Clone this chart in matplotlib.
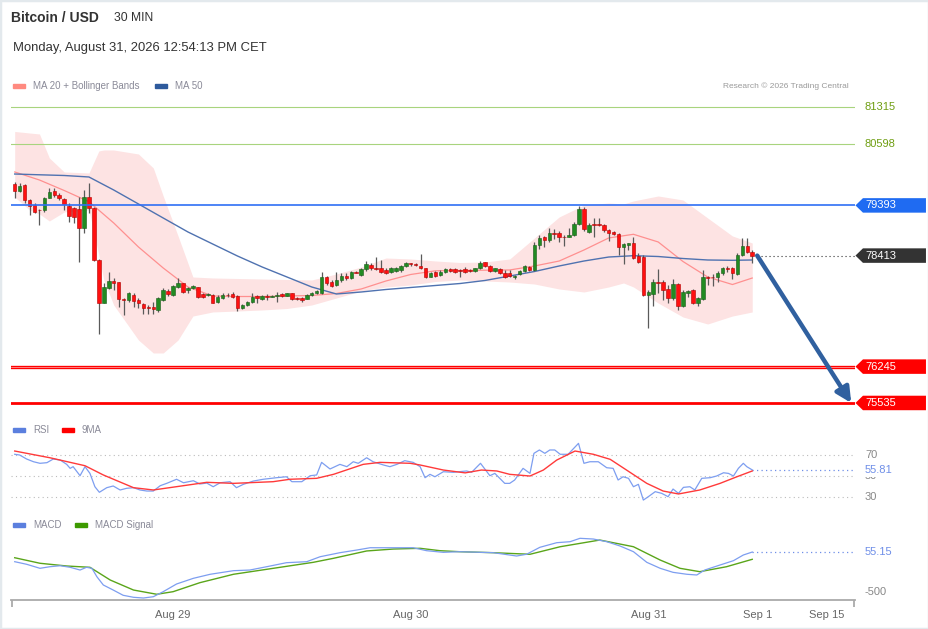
import numpy as np
import matplotlib
matplotlib.use('Agg')
import matplotlib.pyplot as plt
from matplotlib.path import Path
from matplotlib.patches import Rectangle
import matplotlib.transforms as mtrans

plt.rcParams['font.family'] = ['Liberation Sans', 'DejaVu Sans']

# ---------------- data ----------------
opens = [79812,79681,79792,79499,79401,79304,79304,79545,79681,79597,
         79512,79382,79349,79317,78946,79564,79336,78327,77494,77774,
         77917,77891,77559,77546,77644,77546,77462,77403,77403,77351,
         77546,77728,77644,77794,77872,77741,77774,77794,77663,77644,
         77644,77514,77579,77650,77663,77624,77383,77448,77514,77624,
         77566,77631,77611,77624,77657,77631,77676,77592,77579,77566,
         77644,77676,77676,78002,77904,77839,77937,78015,77982,78099,
         78034,78145,78230,78178,78164,78132,78086,78119,78132,78210,
         78262,78249,78210,78164,78002,78099,78034,78099,78151,78145,
         78125,78151,78132,78112,78164,78282,78210,78112,78145,78067,
         78067,78002,78054,78119,78197,78132,78620,78770,78718,78848,
         78848,78783,78783,78815,79024,79317,78881,79024,79024,79011,
         78913,78868,78829,78588,78620,78653,78405,78392,77644,77657,
         77904,77904,77754,77579,77852,77429,77676,77741,77494,77566,
         77989,78002,78002,78067,78178,78164,78054,78425,78601,78477]
highs = [79857,79825,79812,79512,79434,79317,79564,79727,79727,79629,
         79532,79434,79369,79564,79694,79838,79356,78340,77872,78099,
         77969,77904,77579,77709,77676,77579,77481,77448,77514,77611,
         77774,77754,77839,77969,77885,77807,77839,77807,77689,77676,
         77663,77644,77676,77689,77709,77644,77468,77533,77676,77644,
         77644,77657,77644,77709,77689,77689,77689,77611,77611,77663,
         77709,77741,78099,78015,77937,78099,78067,78080,78119,78119,
         78164,78314,78262,78392,78327,78164,78184,78197,78230,78295,
         78275,78275,78444,78178,78099,78119,78132,78164,78171,78164,
         78145,78197,78151,78178,78308,78295,78230,78178,78164,78132,
         78132,78034,78132,78230,78210,78685,78815,78796,78946,78926,
         78900,78815,78946,79076,79382,79369,79043,79141,79141,79030,
         78926,78894,78861,78653,78666,78770,78457,78425,77741,77950,
         78145,77937,77839,77956,77872,77741,77741,77754,77611,78132,
         78015,78054,78119,78197,78210,78197,78457,78750,78750,78523]
lows = [79532,79662,79434,79206,79252,79011,79271,79532,79564,79499,
        79304,79076,79043,78295,78848,79239,78314,76876,77481,77761,
        77741,77416,77253,77514,77416,77383,77273,77273,77273,77318,
        77533,77624,77624,77774,77689,77689,77754,77579,77579,77624,
        77481,77494,77559,77611,77592,77338,77370,77429,77494,77481,
        77546,77546,77598,77513,77611,77618,77546,77546,77513,77559,
        77624,77657,77663,77839,77793,77819,77904,77937,77956,78067,
        78015,78119,78132,78132,78080,78054,78067,78099,78099,78197,
        78210,78216,78145,77969,77989,78002,78015,78080,78099,78080,
        77989,78080,78093,78093,78151,78197,78099,78093,78054,77982,
        77989,77956,78034,78099,78119,78119,78536,78588,78685,78731,
        78685,78601,78770,78796,79011,78900,78861,78770,78991,78881,
        78705,78809,78425,78249,78523,78340,78275,77631,76993,77429,
        77689,77546,77481,77546,77351,77403,77611,77461,77429,77546,
        77839,77819,77904,78034,78099,77950,78034,78405,78457,78262]
closes = [79681,79779,79499,79388,79271,79297,79532,79662,79597,79532,
          79414,79193,79174,78946,79564,79336,78327,77494,77794,77917,
          77872,77559,77546,77676,77527,77481,77383,77383,77364,77579,
          77741,77663,77820,77872,77709,77774,77820,77598,77611,77657,
          77494,77611,77644,77637,77611,77383,77448,77514,77611,77579,
          77631,77611,77631,77644,77631,77676,77559,77559,77546,77644,
          77689,77722,77989,77872,77819,77937,78015,77969,78099,78080,
          78145,78243,78164,78151,78099,78080,78164,78164,78210,78262,
          78243,78230,78164,77989,78080,78015,78099,78145,78119,78099,
          78112,78099,78112,78164,78275,78216,78112,78164,78067,78002,
          78015,78021,78119,78210,78132,78620,78750,78718,78848,78835,
          78770,78770,78822,79030,79317,78926,79011,79011,79011,78913,
          78848,78829,78588,78633,78653,78360,78295,77644,77709,77904,
          77885,77741,77579,77852,77429,77709,77728,77494,77592,77989,
          77969,77989,78080,78178,78145,78067,78425,78601,78490,78413]

ma_idx = [0,5,10,15,20,25,30,35,40,45,50,55,60,65,70,75,80,85,90,95,
          100,105,110,115,120,125,130,135,140,145,149]
ma20 = [80046,79889,79684,79466,79050,78581,78171,77800,77624,77614,77614,
        77624,77634,77673,77761,77917,78044,78116,78122,78128,78132,78210,
        78307,78522,78757,78829,78679,78298,77995,77848,77975]
ma50 = [80006,79991,79977,79948,79694,79421,79147,78874,78639,78405,78190,
        77995,77800,77663,77702,77751,77790,77829,77868,77927,78014,78102,
        78210,78307,78385,78411,78395,78356,78327,78321,78327]

band_idx = [0,3,5,7,10,15,17,18,20,25,28,30,33,36,40,45,50,55,60,65,
            70,75,80,85,90,95,100,105,110,115,120,123,125,130,135,140,145,149]
bb_upper = [80837,80807,80788,80319,80046,80026,80456,80475,80475,80397,
            80124,79577,78796,77995,77976,77966,77956,77946,77937,78054,
            78190,78366,78347,78308,78278,78288,78347,78757,79167,79401,
            79440,79421,79480,79577,79499,79147,78796,78659]
bb_lower = [79557,79304,79226,79089,79265,79304,78425,77937,77448,76765,
            76511,76511,76765,77233,77312,77331,77351,77380,77448,77585,
            77722,77800,77839,77907,77937,77917,77897,77858,77761,77702,
            77800,77878,77800,77487,77214,77077,77233,77312]

rsi_idx = [0,1,2.4,3.8,5.1,6.5,7.8,9.2,10.5,11.2,11.8,13.2,14.2,15.2,16.2,17.1,
           18.6,19.9,21.3,22.6,24,25.3,26.7,28,29.4,30.7,32.7,34.1,36.1,37.4,
           38.8,40.1,41.5,43.5,44.8,46.2,48.2,50.2,52.9,54.9,56,58,59.7,61,62,
           63.7,65.7,67.1,68.4,69.4,71.1,72.4,74.5,75.8,77.2,78.8,80.5,81.9,82.9,
           83.9,84.9,86.6,88.6,89.8,91.3,92.3,94.1,96,97,99,100,101,102.7,104.1,
           104.9,106,107.1,108.1,109.1,110.2,111.8,113.9,115,116.2,117.9,119.6,
           120.9,121.9,122.9,124,125,126,127,128,129.4,130.7,132,133,134.1,135.1,
           136.4,137.4,138.8,140.5,141.8,143.2,144.2,145.2,146.2,147.2,147.9,149]
rsi_val = [70.7,70,66.2,63.6,62.1,62.7,66.2,65.2,61.1,57.3,58.9,50.3,58.9,52.5,39.8,34.5,
           38.9,40.5,36.7,38.3,38.9,36.7,35.7,35.7,40.8,43,46.9,43.6,45.5,42.4,
           43.3,39.8,43.6,44.6,38.9,42.1,45.2,46.9,48.4,49.3,44.6,44.6,50.3,51,63,
           56.7,61.1,58.9,63.6,62.1,67.4,63.6,60.5,58.9,61.1,64.6,63,58.9,48.4,
           51.6,49.3,54.1,53.5,54.1,54.8,53.5,62.1,50.3,52.5,43,43,46.2,57.3,52.5,
           71.6,74.8,71.6,74.8,74.8,70.7,70.7,81.1,62.1,63.6,63.6,57.9,
           57.3,46.2,49.3,47.8,39.8,42.1,27.1,30.3,35.1,33.5,30.3,37.6,33.5,39.2,
           39.8,36.7,47.8,48.4,50,53.1,52.5,50,57.3,62.1,58.9,55.81]
rsi_ma_idx = [0,7.1,14.2,17.9,24,28,34.1,38.8,44.2,52.2,55.6,61,64.4,70.4,73.8,79.9,
              81.9,86.6,91,94.3,97.4,100,104.1,106.8,109.5,113.2,116.9,120.3,123.6,
              127.7,131,134.1,138.4,142.5,145.9,149]
rsi_ma_val = [73.8,67.4,59.8,51,38.9,36.7,40.8,44,43,44.6,46.9,47.8,51.6,61.1,63,62.1,
              60.5,55.7,53,55.7,54.8,51.6,50,55.7,65.2,73.8,70.7,65.9,55.7,
              43,35.7,32.9,36.7,43,49.3,54.8]

macd_idx = [0,2.4,5.1,7.1,9.2,11.2,13.2,14.5,15.6,16.6,17.9,19.9,21.9,24,26,28,30,
            32.7,36.1,39.5,44.2,47.5,50.9,54.9,59,61.7,65.7,69.1,71.8,75.8,80.5,83.2,
            86.6,89.8,96.7,101.4,103.4,106.1,109.5,112.2,114.2,116.9,119.6,122.3,125,
            127.7,130.4,133,135.8,137.8,139.4,142.5,145.2,147.2,149]
macd_val = [-79,-115,-171,-149,-135,-157,-195,-157,-171,-288,-403,-473,-546,-574,-584,-566,-496,
            -389,-310,-254,-204,-195,-149,-93,-79,-10,46,83,115,115,115,74,
            51,60,46,0,24,121,185,199,246,236,199,139,60,
            -88,-171,-227,-254,-264,-195,-125,-65,14,55.15]
sig_idx = [0,5.1,10.5,15.2,19.3,24,28.7,32,37.4,44.2,50.9,60.3,64.4,71.1,76.5,81.9,85.9,
           89.8,96.7,104.1,110.2,118.2,125,130.4,134.4,138.4,143.8,149]
sig_val = [-24,-101,-139,-157,-334,-473,-532,-496,-371,-254,-185,-88,-32,70,97,107,74,
           60,46,24,129,222,129,-56,-171,-218,-149,-46]

levels_green = [81315, 80598]
level_blue = 79393
level_last = 78413
levels_red = [76245, 75535]
target_price = 75535
rsi_last = 55.81
macd_last = 55.15

date_tick_pos = [32, 80, 128, 150, 164]
date_tick_lab = ['Aug 29', 'Aug 30', 'Aug 31', 'Sep 1', 'Sep 15']

# ---------------- figure ----------------
W, H = 929, 629
fig = plt.figure(figsize=(W / 100, H / 100), dpi=100)
fig.patch.set_facecolor('white')


def rect(left, top, right, bottom):
    return [left / W, 1 - bottom / H, (right - left) / W, (bottom - top) / H]


XLIM = (-0.75, 169.76)
ax = fig.add_axes(rect(11, 95, 855, 415))
axr = fig.add_axes(rect(11, 440, 855, 505))
axm = fig.add_axes(rect(11, 535, 855, 600))
for a in (ax, axr, axm):
    a.set_xlim(*XLIM)
    for s in a.spines.values():
        s.set_visible(False)
    a.set_xticks([])
    a.set_yticks([])
    a.patch.set_alpha(0)

ax.set_ylim(75300, 81549)
axr.set_ylim(22.4, 84.3)
axm.set_ylim(-611.6, 292)


def tag_style(x0, y0, width, height, mutation_size):
    h = 14.5
    cy = y0 + height / 2
    left = x0 - 2.0
    tip = left - 7.5
    right = x0 + 61
    verts = [(tip, cy), (left, cy + h / 2), (right, cy + h / 2),
             (right, cy - h / 2), (left, cy - h / 2), (tip, cy)]
    codes = [Path.MOVETO] + [Path.LINETO] * 4 + [Path.CLOSEPOLY]
    return Path(verts, codes)


def right_label(a, y, s, color='#888888', box=None, hide=False):
    tr = mtrans.blended_transform_factory(a.transAxes, a.transData)
    kw = {}
    if box is not None:
        kw['bbox'] = dict(boxstyle=tag_style, fc=box, ec='none')
    elif hide:
        kw['bbox'] = dict(boxstyle='square,pad=0.15', fc='white', ec='none')
    a.text(1.0118, y, s, transform=tr, fontsize=8, color=color, va='center',
           ha='left', clip_on=False, zorder=10, **kw)


# ---- price panel ----
O = np.array(opens, float)
Hh = np.array(highs, float)
L = np.array(lows, float)
C = np.array(closes, float)
x = np.arange(len(C))

ax.fill_between(band_idx, bb_lower, bb_upper, color='#fde3e3', lw=0, zorder=1)
ax.plot(ma_idx, ma20, color='#ff9090', lw=0.9, zorder=2)
ax.plot(ma_idx, ma50, color='#4f72b0', lw=1.0, zorder=2)

up = C >= O
bot = np.minimum(O, C)
hgt = np.maximum(np.abs(C - O), 14)
ax.vlines(x, L, Hh, color='#5a5a5a', lw=0.9, zorder=3)
ax.bar(x[up], hgt[up], bottom=bot[up], width=0.72, color='#228b22',
       edgecolor='#185c18', lw=0.4, zorder=4)
ax.bar(x[~up], hgt[~up], bottom=bot[~up], width=0.72, color='#ff1010',
       edgecolor='#b00000', lw=0.4, zorder=4)

for lv in levels_green:
    ax.axhline(lv, color='#a8d47e', lw=0.8, zorder=5)
    right_label(ax, lv, str(lv), color='#6f9e12')
ax.axhline(level_blue, color='#2f6ff5', lw=1.2, zorder=5)
right_label(ax, level_blue, str(level_blue), color='white', box='#1f6bf2')
ax.axhline(levels_red[0], color='#ff0000', lw=2.4, zorder=5)
ax.axhline(levels_red[0], color='#ffb3b3', lw=0.5, zorder=5)
ax.axhline(levels_red[1], color='#ff0000', lw=2.0, zorder=5)
for lv in levels_red:
    right_label(ax, lv, str(lv), color='white', box='#ff0000')

ax.hlines(level_last, 150, XLIM[1], color='#333333', lw=0.8,
          linestyles=(0, (1, 2.6)), zorder=5)
right_label(ax, level_last, str(level_last), color='white', box='#333333')

ax.annotate('', xy=(169.0, target_price), xytext=(150.0, level_last),
            arrowprops=dict(arrowstyle='-|>,head_length=0.9,head_width=0.45',
                            color='#30609f', lw=3.2, shrinkA=0, shrinkB=0),
            zorder=6, annotation_clip=False)

# ---- RSI panel ----
for g in (70, 50, 30):
    axr.axhline(g, color='#bbbbbb', lw=0.8, ls=(0, (1, 3)), zorder=1)
axr.plot(rsi_idx, rsi_val, color='#7d9ef0', lw=0.9, zorder=3)
axr.plot(rsi_ma_idx, rsi_ma_val, color='#ff3a3a', lw=1.0, zorder=3)
axr.hlines(rsi_last, rsi_idx[-1], XLIM[1], color='#6f8fe8', lw=0.9,
           linestyles=(0, (1, 2.6)), zorder=2)
right_label(axr, 70, '70')
right_label(axr, 30, '30')
right_label(axr, 50, '50')
right_label(axr, rsi_last, f'{rsi_last:.2f}', color='#6f8fe8', hide=True)

# ---- MACD panel ----
axm.plot(sig_idx, sig_val, color='#5aa51a', lw=1.0, zorder=3)
axm.plot(macd_idx, macd_val, color='#7d9ef0', lw=0.9, zorder=3)
axm.hlines(macd_last, macd_idx[-1], XLIM[1], color='#6f8fe8', lw=0.9,
           linestyles=(0, (1, 2.6)), zorder=2)
right_label(axm, -500, '-500')
right_label(axm, macd_last, f'{macd_last:.2f}', color='#6f8fe8', hide=True)

axm.spines['bottom'].set_visible(True)
axm.spines['bottom'].set_color('#aaaaaa')
axm.spines['bottom'].set_linewidth(1.3)
axm.set_xticks(date_tick_pos)
axm.set_xticklabels(date_tick_lab)
axm.tick_params(axis='x', which='major', length=0, pad=7.5, labelsize=8,
                labelcolor='#666666')
axm.set_xticks([XLIM[0] + 0.15, XLIM[1] - 0.15], minor=True)
axm.tick_params(axis='x', which='minor', length=5, width=1.3, color='#aaaaaa',
                direction='out')

# ---- header / legends ----
def fy(y):
    return 1 - y / H


fig.text(11 / W, fy(18), 'Bitcoin / USD', fontsize=10, weight='bold',
         color='#333333', va='center')
fig.text(114 / W, fy(18), '30 MIN', fontsize=8.7, color='#333333', va='center')
fig.text(13 / W, fy(48), 'Monday, August 31, 2026 12:54:13 PM CET',
         fontsize=9.4, color='#333333', va='center')
fig.text(849 / W, fy(86), 'Research \u00a9 2026 Trading Central', fontsize=6,
         color='#9a9a9a', va='center', ha='right')


def legend_item(x0, y, color, label, tx):
    fig.patches.append(Rectangle((x0 / W, fy(y + 2)), 12 / W, 4 / H,
                                 transform=fig.transFigure, color=color))
    fig.text(tx / W, fy(y), label, fontsize=7, color='#8a8a98', va='center')


legend_item(13, 86, '#ff8a80', 'MA 20 + Bollinger Bands', 33)
legend_item(155, 86, '#2e5a9c', 'MA 50', 175)
legend_item(13, 430, '#5b7fde', 'RSI', 33)
legend_item(62, 430, '#ff0000', '9MA', 82)
legend_item(13, 525, '#5b7fde', 'MACD', 33)
legend_item(75, 525, '#3d9a00', 'MACD Signal', 95)

fig.patches.append(Rectangle((0, 0), 1, 1, transform=fig.transFigure,
                             fill=False, edgecolor='#e3e9ed', lw=2.5))

fig.savefig('out.png', dpi=100)
